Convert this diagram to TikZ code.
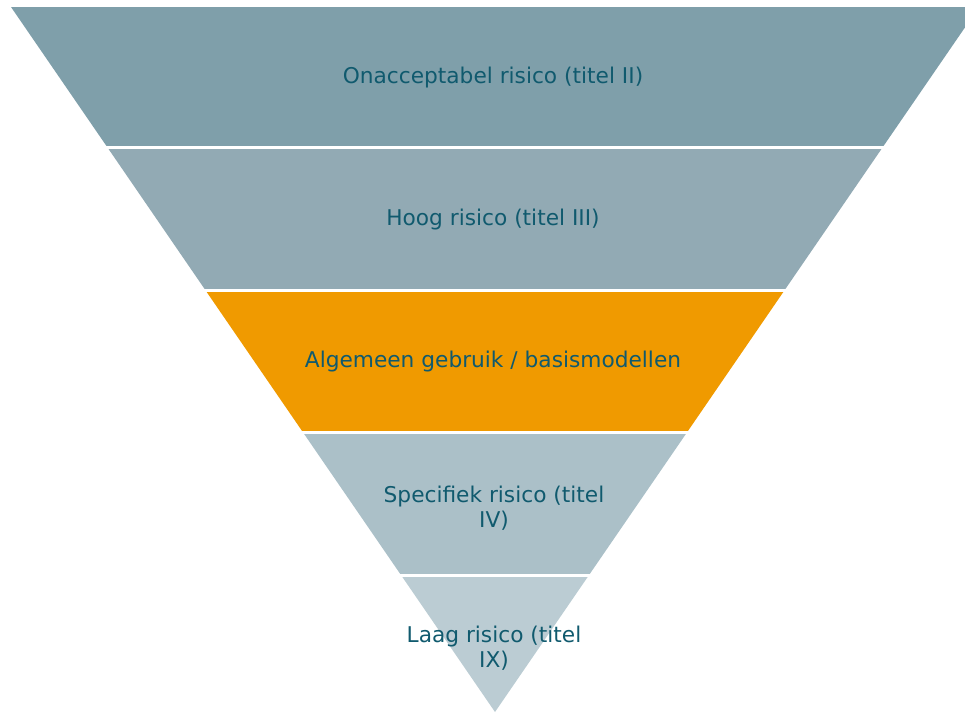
\documentclass[tikz,border=0pt]{standalone}
\usepackage{fontspec}
\setmainfont{DejaVu Sans}
\usepackage{tikz}
\usetikzlibrary{calc}

\definecolor{bandone}{RGB}{127,159,170}
\definecolor{bandtwo}{RGB}{146,170,180}
\definecolor{bandthree}{RGB}{240,154,0}
\definecolor{bandfour}{RGB}{171,192,200}
\definecolor{bandfive}{RGB}{187,204,211}
\definecolor{labeltext}{RGB}{16,90,110}

\tikzset{
  bandlabel/.style={text=labeltext, align=center, font=\fontsize{21.7}{25}\selectfont},
  gapline/.style={white, line width=3pt}
}

\begin{document}
\begin{tikzpicture}[x=1pt,y=-1pt]

\useasboundingbox (0,0) rectangle (965,712);
\clip (0,0) rectangle (965,712);

\fill[bandone]   (11,7) -- (979,7) -- (882.5,147.5) -- (107.5,147.5) -- cycle;
\fill[bandtwo]   (107.5,147.5) -- (882.5,147.5) -- (784.7,290) -- (205.3,290) -- cycle;
\fill[bandthree] (205.3,290) -- (784.7,290) -- (686.9,432.5) -- (303.1,432.5) -- cycle;
\fill[bandfour]  (303.1,432.5) -- (686.9,432.5) -- (588.7,575.5) -- (401.3,575.5) -- cycle;
\fill[bandfive]  (401.3,575.5) -- (588.7,575.5) -- (495,712) -- cycle;

\draw[gapline] (100,147.5) -- (890,147.5);
\draw[gapline] (198,290) -- (792,290);
\draw[gapline] (296,432.5) -- (694,432.5);
\draw[gapline] (394,575.5) -- (596,575.5);

\node[bandlabel] (onacc) at (493,78) {Onacceptabel risico (titel II)};
\node[bandlabel] (hoog) at (493,220) {Hoog risico (titel III)};
\node[bandlabel] (algem) at (493,362) {Algemeen gebruik / basismodellen};
\node[bandlabel] (specif) at (494,508) {Specifiek risico (titel\\IV)};
\node[bandlabel] (laag) at (494,648) {Laag risico (titel\\IX)};

\end{tikzpicture}
\end{document}
